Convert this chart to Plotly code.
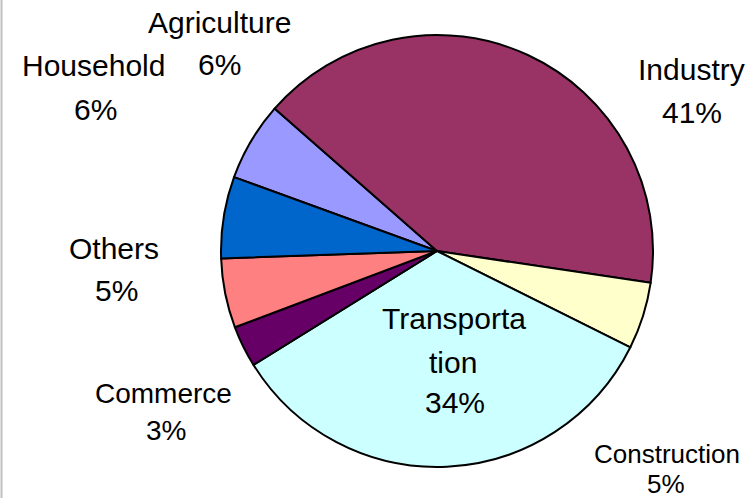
import plotly.graph_objects as go

# data (share of each sector, %)
sectors = ["Agriculture", "Industry", "Construction", "Transportation",
           "Commerce", "Others", "Household"]
shares = [5.9, 40.9, 5.0, 33.8, 3.1, 5.2, 6.1]
colors = ["#9999FF", "#993366", "#FFFFCC", "#CCFFFF",
          "#660066", "#FF8080", "#0066CC"]

W, H = 754, 498

# label placement (pixel centres of each text line) and font size
label_pos = {
    "Agriculture": ([219, 219], [22.5, 64], 30),
    "Industry": ([691, 692], [69.5, 112.5], 30),
    "Construction": ([667, 666], [454, 484], 26),
    "Transportation": ([454, 453, 455], [318.5, 362, 402.5], 30),
    "Commerce": ([163, 166], [393, 430], 28),
    "Others": ([114, 116], [248, 290.5], 30),
    "Household": ([93, 95], [66, 109], 30),
}
wrapped = {"Transportation": ["Transporta", "tion"]}

total = sum(shares)
annotations = []
for name, val in zip(sectors, shares):
    lines = wrapped.get(name, [name]) + [f"{round(val / total * 100)}%"]
    xs, ys, fs = label_pos[name]
    for txt, px, py in zip(lines, xs, ys):
        annotations.append(dict(
            text=txt, x=px / W, y=1 - py / H, xref="paper", yref="paper",
            xanchor="center", yanchor="middle", showarrow=False,
            font=dict(family="Arial, Liberation Sans, sans-serif", size=fs, color="black"),
        ))

# pie centre (437, 251), radius 216 px
cx, cy, r = 437, 251, 216
fig = go.Figure(go.Pie(
    labels=sectors, values=shares, sort=False, direction="clockwise",
    rotation=290, textinfo="none", hoverinfo="label+percent",
    marker=dict(colors=colors, line=dict(color="black", width=2)),
    domain=dict(x=[(cx - r) / W, (cx + r) / W], y=[1 - (cy + r) / H, 1 - (cy - r) / H]),
    showlegend=False,
))

fig.update_layout(
    width=W, height=H, margin=dict(l=0, r=0, t=0, b=0),
    paper_bgcolor="white", plot_bgcolor="white",
    annotations=annotations,
    shapes=[dict(type="line", xref="paper", yref="paper", x0=0.002, x1=0.002, y0=0, y1=1,
                 line=dict(color="#C0C0C0", width=2))],
)

# drop the browser's default body margin so the figure sits at the page corner
fig.write_html("out.html", config={"displayModeBar": False},
               post_script="document.body.style.margin='0';")
